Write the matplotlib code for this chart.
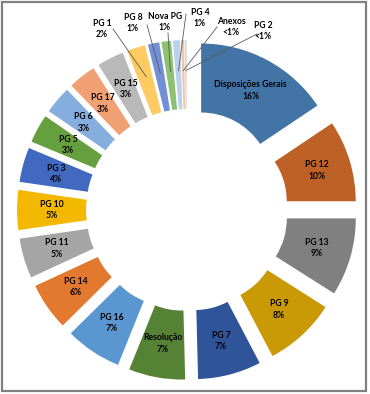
import numpy as np
import matplotlib.pyplot as plt
from matplotlib.patches import Rectangle

# slices, clockwise from 12 o'clock
names = ["Disposições Gerais", "PG 12", "PG 13", "PG 9", "PG 7", "Resolução", "PG 16",
         "PG 14", "PG 11", "PG 10", "PG 3", "PG 5", "PG 6", "PG 17", "PG 15",
         "PG 1", "PG 8", "Nova PG", "PG 4", "Anexos", "PG 2"]
shares = [15.6, 9.4, 9.0, 8.3, 7.3, 6.5, 6.5, 5.5, 4.6, 4.6, 4.0, 3.3, 3.2, 3.2, 3.1,
          2.1, 1.3, 1.1, 0.8, 0.35, 0.25]
pct_labels = ["16%", "10%", "9%", "8%", "7%", "7%", "7%", "6%", "5%", "5%", "4%",
              "3%", "3%", "3%", "3%", "2%", "1%", "1%", "1%", "<1%", "<1%"]
colors = ["#4274A6", "#BE6126", "#808080", "#C99A06", "#30549A", "#558235", "#5A96D0",
          "#E2792F", "#A5A5A5", "#F3B800", "#4069BF", "#66A03E", "#85AEDF", "#F1A073",
          "#B9B9B9", "#FDCB62", "#7390D6", "#8EC173", "#B9D1EE", "#F5C3A5", "#D9D9D9"]

# labels drawn outside with a leader line: text centre, line start (pixels from top-left)
outside = {
    "PG 1": (102, 29, 113, 29),
    "PG 8": (133, 23, 147, 25),
    "Nova PG": (165, 22, 168, 33),
    "PG 4": (200, 18, 186, 14),
    "Anexos": (231, 27, 217, 27),
    "PG 2": (263, 31, 257, 34),
}

W, H = 370, 394
cx, cy = 187, 210
R, ring, gap = 140, 69, 30

fig = plt.figure(figsize=(W / 100, H / 100), dpi=100)
ax = fig.add_axes([0, 0, 1, 1])
wedges, _ = ax.pie(shares, colors=colors, startangle=90, counterclock=False,
                   radius=R, center=(cx, H - cy), explode=[gap] * len(shares),
                   wedgeprops=dict(width=ring, linewidth=0))
ax.set_xlim(0, W)
ax.set_ylim(0, H)
ax.set_aspect("equal")
ax.axis("off")

txt = dict(ha="center", va="center", fontsize=6.2, fontweight="bold",
           family=["Lato", "DejaVu Sans"], color="black", linespacing=1.35)

for w, name, pct in zip(wedges, names, pct_labels):
    t = np.deg2rad((w.theta1 + w.theta2) / 2)
    rm = w.r - w.width / 2
    px = w.center[0] + rm * np.cos(t)
    py = w.center[1] + rm * np.sin(t)
    if name in outside:
        tx, ty, lx, ly = outside[name]
        ax.plot([lx, px], [H - ly, py + 4], color="#595959", lw=0.6)
        ax.text(tx, H - ty, f"{name}\n{pct}", **txt)
    else:
        ax.text(px, py, f"{name}\n{pct}", **txt)

ax.add_patch(Rectangle((1.5, 3), 364, 389.5, fill=False, edgecolor="#808080", lw=1.6))

fig.savefig("out.png", dpi=100)
